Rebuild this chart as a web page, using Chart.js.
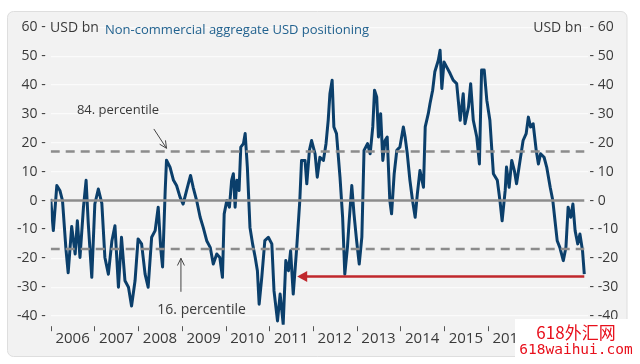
<!DOCTYPE html>
<html>
<head>
<meta charset="utf-8">
<script src="https://cdn.jsdelivr.net/npm/chart.js@4.4.1/dist/chart.umd.min.js"></script>
<style>
  html, body { margin: 0; padding: 0; background: #fff; }
  canvas { display: block; }
</style>
</head>
<body>
<canvas id="usdChart" width="640" height="364"></canvas>
<script>
// Net non-commercial USD position (decimal year -> USD bn)
const dates = [
  2006.00, 2006.06, 2006.14, 2006.21, 2006.27, 2006.35, 2006.40, 2006.48, 2006.56, 2006.61, 2006.67, 2006.75, 2006.81, 2006.86, 2006.94,
  2007.01, 2007.09, 2007.17, 2007.24, 2007.32, 2007.40, 2007.47, 2007.55, 2007.62, 2007.70, 2007.78, 2007.85, 2007.93,
  2008.00, 2008.08, 2008.16, 2008.23, 2008.31, 2008.39, 2008.46, 2008.52, 2008.56, 2008.62, 2008.65, 2008.73, 2008.81, 2008.88, 2008.96,
  2009.03, 2009.11, 2009.20, 2009.26, 2009.34, 2009.42, 2009.49, 2009.57, 2009.65, 2009.72, 2009.80, 2009.87, 2009.93, 2009.97,
  2010.03, 2010.09, 2010.14, 2010.18, 2010.22, 2010.26, 2010.31, 2010.35, 2010.41, 2010.45, 2010.50, 2010.56, 2010.62, 2010.68, 2010.73, 2010.77, 2010.83, 2010.90, 2010.98,
  2011.06, 2011.11, 2011.19, 2011.25, 2011.32, 2011.38, 2011.44, 2011.49, 2011.55, 2011.63, 2011.70, 2011.74, 2011.82, 2011.86, 2011.92, 2011.97,
  2012.05, 2012.10, 2012.16, 2012.24, 2012.30, 2012.35, 2012.39, 2012.44, 2012.48, 2012.54, 2012.62, 2012.68, 2012.73, 2012.79, 2012.83, 2012.89, 2012.94,
  2013.00, 2013.06, 2013.12, 2013.17, 2013.25, 2013.31, 2013.37, 2013.41, 2013.46, 2013.50, 2013.55, 2013.60, 2013.65, 2013.70, 2013.76, 2013.80, 2013.86, 2013.92, 2013.99,
  2014.07, 2014.11, 2014.16, 2014.22, 2014.28, 2014.34, 2014.39, 2014.45, 2014.53, 2014.57, 2014.64, 2014.68, 2014.74, 2014.79, 2014.87, 2014.91, 2014.95,
  2015.00, 2015.06, 2015.14, 2015.21, 2015.29, 2015.37, 2015.44, 2015.48, 2015.56, 2015.61, 2015.67, 2015.75, 2015.81, 2015.86, 2015.92, 2015.98,
  2016.05, 2016.13, 2016.22, 2016.28, 2016.33, 2016.40, 2016.43, 2016.49, 2016.55, 2016.61, 2016.66, 2016.74, 2016.81, 2016.88, 2016.93, 2016.98,
  2017.04, 2017.11, 2017.16, 2017.21, 2017.29, 2017.35, 2017.43, 2017.49, 2017.54, 2017.59, 2017.65, 2017.73, 2017.79, 2017.84, 2017.90, 2017.95,
  2018.00, 2018.06, 2018.11, 2018.17, 2018.21
];
const positions = [
  0.6, -10.4, 5.2, 3.5, 0, -17, -25, -9, -18.5, -7, -19.7, -2.3, 7, -8, -26.6,
  -1.2, 4, -1, -19.7, -25.5, -14, -8.7, -30, -12.7, -27.8, -30, -36.5, -27.8,
  -13.3, -15, -25.5, -30, -12.7, -10.4, -2.3, -17, -23, 3.5, 14, 11.6, 7, 5.2, 1.2,
  -1.2, 3.5, 8.7, 4.6, 0, -5.8, -9.3, -13.9, -16.2, -22, -18.5, -19.7, -26.6, -4.6,
  0, -2.3, 7, 9.3, -2.3, 7, 3.5, 18.5, 19.7, 23.2, 11.6, -9.3, -15, -19.7, -24.3, -35.9, -26.6, -13.9, -12.7,
  -15, -31.3, -41.7, -32.4, -42.8, -20.8, -24.3, -17.4, -32.4, -16.2, 0, 13.9, 13.9, 5.8, 17.4, 20.8,
  16.2, 8.1, 15, 13.9, 19.7, 27.8, 37.1, 41.7, 25.5, 23.2, 8.1, -5.8, -25.5, -16.2, -7, 5.2, -4.6,
  -13.9, -22, -12.7, 17.4, 19.7, 16.2, 25.5, 38.2, 35.9, 22, 30.1, 13.9, 20.8, 22, 0, -4.6, 9.3, 17.4, 18.5,
  25.5, 22, 16.2, 7, 0, -5.8, 2.3, 10.4, 4.6, 25.5, 30.1, 33.6, 38.2, 44.6, 48.6, 52.1, 38.8,
  48, 46.3, 44, 41.7, 40.5, 27.8, 37, 26.6, 32.4, 40.5, 27.8, 22, 12.7, 45.2, 45.2, 34.7,
  27.8, 9.3, 7, 0, -7, 3.5, 11.6, 4.6, 13.9, 10.4, 5.8, 13.9, 20.8, 23.2, 28.9, 25.5,
  26.6, 17.4, 12.7, 16.2, 15, 11.6, 4.6, 0, -7, -13.9, -16.2, -20.8, -16.2, -2.3, -5.8, -1.2,
  -10.4, -15, -11.6, -17.4, -25.5
];

const yTicks = [-40, -30, -20, -10, 0, 10, 20, 30, 40, 50, 60];
const yearTicks = [2006, 2007, 2008, 2009, 2010, 2011, 2012, 2013, 2014, 2015, 2016, 2017, 2018];
const yearLabels = [2006, 2007, 2008, 2009, 2010, 2011, 2012, 2013, 2014, 2015, 2016, 2017];

const pct84 = 17.0;
const pct16 = -16.8;
const latestLevel = -26.3;
const redArrowTip = 2011.64;
const seriesStart = 2006.0;
const seriesEnd = 2018.21;

const note84 = { text: "84. percentile", x: 2006.6, y: 31.2, from: [2008.36, 24.8], to: [2008.65, 18.1] };
const note16 = { text: "16. percentile", x: 2008.44, y: -37.9, from: [2008.98, -31.6], to: [2008.98, -20.0] };

const INK = "#3a3a3a";
const NAVY = "#0b3f6b";
const GREY = "#8c8c8c";
const RED = "#c0282d";

Chart.defaults.font.family = "'Open Sans', sans-serif";
Chart.defaults.color = INK;

function arrowHead(ctx, x1, y1, x2, y2, len) {
  const a = Math.atan2(y2 - y1, x2 - x1);
  ctx.beginPath();
  ctx.moveTo(x2 - len * Math.cos(a - 0.45), y2 - len * Math.sin(a - 0.45));
  ctx.lineTo(x2, y2);
  ctx.lineTo(x2 - len * Math.cos(a + 0.45), y2 - len * Math.sin(a + 0.45));
  ctx.stroke();
}

const decor = {
  id: "decor",
  beforeDraw(chart) {
    const ctx = chart.ctx;
    ctx.save();
    ctx.fillStyle = "#fff";
    ctx.fillRect(0, 0, chart.width, chart.height);
    ctx.beginPath();
    ctx.roundRect(7.5, 11.5, 619.5, 345, 6);
    ctx.fillStyle = "#f2f2f2";
    ctx.fill();
    ctx.strokeStyle = "#dedede";
    ctx.lineWidth = 1;
    ctx.stroke();
    ctx.restore();
  },
  afterDatasetsDraw(chart) {
    const ctx = chart.ctx;
    const xs = chart.scales.x, ys = chart.scales.y;
    const area = chart.chartArea;
    ctx.save();

    // year boundary tick marks below the plot
    ctx.strokeStyle = "#555";
    ctx.lineWidth = 1;
    yearTicks.forEach((yr) => {
      const px = Math.round(xs.getPixelForValue(yr)) + 0.5;
      ctx.beginPath();
      ctx.moveTo(px, area.bottom + 1.5);
      ctx.lineTo(px, area.bottom + 6.5);
      ctx.stroke();
    });

    // red arrow head at the left end of the "current level" line
    const tx = xs.getPixelForValue(redArrowTip), ty = ys.getPixelForValue(latestLevel);
    ctx.fillStyle = RED;
    ctx.beginPath();
    ctx.moveTo(tx, ty);
    ctx.lineTo(tx + 10, ty - 5.5);
    ctx.lineTo(tx + 10, ty + 5.5);
    ctx.closePath();
    ctx.fill();

    // percentile notes
    ctx.font = "13px 'Open Sans', sans-serif";
    ctx.fillStyle = INK;
    ctx.textBaseline = "middle";
    ctx.fillText(note84.text, xs.getPixelForValue(note84.x), ys.getPixelForValue(note84.y));
    ctx.font = "14px 'Open Sans', sans-serif";
    ctx.fillText(note16.text, xs.getPixelForValue(note16.x), ys.getPixelForValue(note16.y));

    ctx.strokeStyle = "#444";
    [note84, note16].forEach((n) => {
      const x1 = xs.getPixelForValue(n.from[0]), y1 = ys.getPixelForValue(n.from[1]);
      const x2 = xs.getPixelForValue(n.to[0]), y2 = ys.getPixelForValue(n.to[1]);
      ctx.beginPath();
      ctx.moveTo(x1, y1);
      ctx.lineTo(x2, y2);
      ctx.stroke();
      arrowHead(ctx, x1, y1, x2, y2, 8);
    });
    ctx.restore();
  },
  afterDraw(chart) {
    const ctx = chart.ctx;
    ctx.save();
    ctx.textBaseline = "middle";
    ctx.font = "14px 'Open Sans', sans-serif";
    ctx.fillStyle = INK;
    ctx.textAlign = "left";
    ctx.fillText("USD bn", 50, 28.5);
    ctx.textAlign = "right";
    ctx.fillText("USD bn", 582, 28.5);
    ctx.textAlign = "left";
    ctx.font = "13px 'Open Sans', sans-serif";
    ctx.fillStyle = "#22628f";
    ctx.fillText("Non-commercial aggregate USD positioning", 105, 30);

    // watermark box in the lower right corner
    ctx.fillStyle = "#fff";
    ctx.fillRect(515, 319, 125, 45);
    ctx.fillStyle = "#e8101c";
    ctx.textAlign = "center";
    ctx.font = "17px 'Noto Sans CJK SC', sans-serif";
    ctx.fillText("618外汇网", 576, 333);
    ctx.font = "14.5px 'DejaVu Sans Mono', monospace";
    ctx.fillText("618waihui.com", 576, 350);
    ctx.restore();
  }
};

const seriesPoints = dates.map((d, i) => ({ x: d, y: positions[i] }));
const flat = (v, a, b) => [{ x: a, y: v }, { x: b, y: v }];

new Chart(document.getElementById("usdChart"), {
  type: "line",
  data: {
    datasets: [
      {
        label: "Non-commercial aggregate USD positioning",
        data: seriesPoints,
        borderColor: NAVY,
        borderWidth: 3,
        borderJoinStyle: "round",
        pointRadius: 0,
        tension: 0,
        order: 4
      },
      {
        label: "zero",
        data: flat(0, seriesStart, seriesEnd),
        borderColor: GREY,
        borderWidth: 2.6,
        pointRadius: 0,
        order: 3
      },
      {
        label: "84. percentile",
        data: flat(pct84, seriesStart, seriesEnd),
        borderColor: GREY,
        borderWidth: 2.6,
        borderDash: [9, 6],
        pointRadius: 0,
        order: 2
      },
      {
        label: "16. percentile",
        data: flat(pct16, seriesStart, seriesEnd),
        borderColor: GREY,
        borderWidth: 2.6,
        borderDash: [9, 6],
        pointRadius: 0,
        order: 2
      },
      {
        label: "current",
        data: flat(latestLevel, redArrowTip + 3 / 43.7, seriesEnd),
        borderColor: RED,
        borderWidth: 2.6,
        pointRadius: 0,
        order: 1
      }
    ]
  },
  options: {
    responsive: false,
    animation: false,
    devicePixelRatio: 1,
    layout: { padding: { top: 25.9, left: 0, right: 0, bottom: 0 } },
    plugins: { legend: { display: false }, tooltip: { enabled: false } },
    scales: {
      x: {
        type: "linear",
        position: "bottom",
        min: 2006,
        max: 2018.295,
        afterBuildTicks: (s) => { s.ticks = yearLabels.map((v) => ({ value: v + 0.5 })); },
        afterFit: (s) => { s.height = 39.3; },
        grid: { display: false },
        border: { display: false },
        ticks: {
          autoSkip: false,
          maxRotation: 0,
          padding: -3,
          color: INK,
          font: { size: 15 },
          callback: (v) => String(Math.floor(v))
        }
      },
      y: {
        position: "left",
        min: -43,
        max: 60.5,
        afterBuildTicks: (s) => { s.ticks = yTicks.map((v) => ({ value: v })); },
        afterFit: (s) => { s.width = 50.7; },
        grid: { color: "#fbfbfb", lineWidth: 1.3, drawTicks: false },
        border: { display: false },
        ticks: { padding: 5, color: INK, font: { size: 14 }, callback: (v) => v + " -" }
      },
      y2: {
        position: "right",
        min: -43,
        max: 60.5,
        afterBuildTicks: (s) => { s.ticks = yTicks.map((v) => ({ value: v })); },
        afterFit: (s) => { s.width = 52; },
        grid: { display: false, drawTicks: false },
        border: { display: false },
        ticks: { padding: 1.5, color: INK, font: { size: 14 }, callback: (v) => "- " + v }
      }
    }
  },
  plugins: [decor]
});
</script>
</body>
</html>
